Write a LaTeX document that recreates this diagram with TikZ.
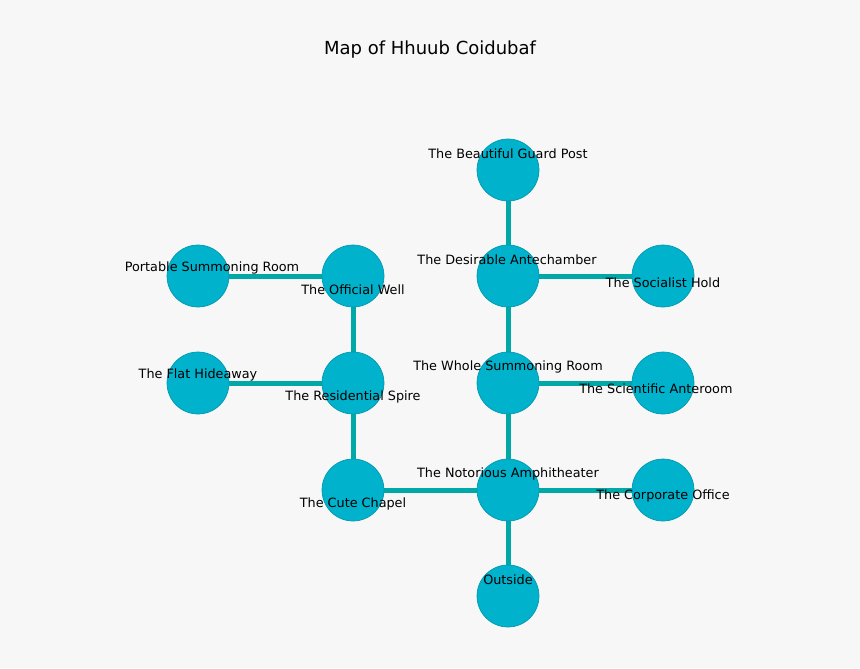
\documentclass[tikz,border=0pt]{standalone}
\usepackage{fontspec}
\setmainfont{DejaVu Sans}
\begin{document}
\begin{tikzpicture}[x=0.75pt,y=-0.75pt,
  room/.style={circle,fill=roomfill,draw=roomedge,line width=0.5pt,minimum size=46.5pt,inner sep=0pt},
  link/.style={draw=linkcol,line width=3.75pt},
  lbl/.style={font=\fontsize{9.6}{11}\selectfont,inner sep=0pt,text=black}]
\definecolor{bg}{HTML}{F7F7F7}
\definecolor{roomfill}{HTML}{00B2CC}
\definecolor{roomedge}{HTML}{0098AE}
\definecolor{linkcol}{HTML}{00A8A8}
\fill[bg] (0,0) rectangle (860,668);
\useasboundingbox (0,0) rectangle (860,668);
\node[font=\fontsize{13.5}{16}\selectfont] (title) at (430,50) {Map of Hhuub Coidubaf};
\coordinate (gp) at (508,170);
\coordinate (da) at (508,276);
\coordinate (sh) at (663,276);
\coordinate (ow) at (353,276);
\coordinate (pr) at (198,276);
\coordinate (ws) at (508,383);
\coordinate (sa) at (663,383);
\coordinate (rs) at (353,383);
\coordinate (fh) at (198,383);
\coordinate (na) at (508,490);
\coordinate (co) at (663,490);
\coordinate (cc) at (353,490);
\coordinate (ou) at (508,596);
\foreach \a/\b in {gp/da,da/sh,da/ws,ws/sa,ws/na,na/co,na/ou,na/cc,cc/rs,rs/fh,rs/ow,ow/pr}
  \draw[link] (\a) -- (\b);
\foreach \n in {gp,da,sh,ow,pr,ws,sa,rs,fh,na,co,cc,ou}
  \node[room] (n\n) at (\n) {};
\begin{scope}
\clip (118,0) rectangle (741,668);
\node[lbl] (l1) at (508,154) {The Beautiful Guard Post};
\node[lbl] (l2) at (507,260) {The Desirable Antechamber};
\node[lbl] (l3) at (663,283) {The Socialist Hold};
\node[lbl] (l4) at (353,290) {The Official Well};
\node[lbl] (l5) at (212,268) {Portable Summoning Room};
\node[lbl] (l6) at (198,375) {The Flat Hideaway};
\node[lbl] (l7) at (353,397) {The Residential Spire};
\node[lbl] (l8) at (508,367) {The Whole Summoning Room};
\node[lbl,anchor=west] (l9) at (579,389) {The Scientific Anteroom};
\node[lbl] (l10) at (508,474) {The Notorious Amphitheater};
\node[lbl] (l11) at (663,496) {The Corporate Office};
\node[lbl] (l12) at (353,504) {The Cute Chapel};
\node[lbl] (l13) at (508,580) {Outside};
\end{scope}
\end{tikzpicture}
\end{document}
